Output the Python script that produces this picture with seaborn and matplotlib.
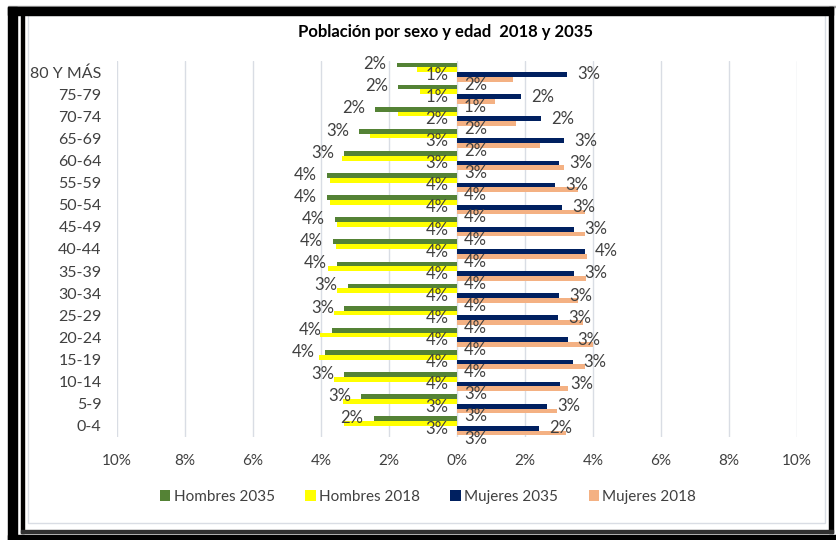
import numpy as np
import pandas as pd
import seaborn as sns
import matplotlib.pyplot as plt
from matplotlib.patches import Rectangle, Patch

# Data (percent of total population)
edades = ["80 Y MÁS", "75-79", "70-74", "65-69", "60-64", "55-59", "50-54", "45-49",
          "40-44", "35-39", "30-34", "25-29", "20-24", "15-19", "10-14", "5-9", "0-4"]
hombres_2035 = [1.77, 1.73, 2.40, 2.87, 3.31, 3.82, 3.82, 3.59, 3.64, 3.52, 3.21, 3.31, 3.69, 3.87, 3.31, 2.82, 2.45]
hombres_2018 = [1.18, 1.08, 1.73, 2.55, 3.38, 3.73, 3.75, 3.52, 3.56, 3.80, 3.53, 3.61, 4.02, 4.05, 3.63, 3.36, 3.31]
mujeres_2035 = [3.24, 1.88, 2.48, 3.14, 3.01, 2.88, 3.09, 3.45, 3.75, 3.45, 3.01, 2.96, 3.25, 3.42, 3.04, 2.64, 2.40]
mujeres_2018 = [1.64, 1.13, 1.74, 2.45, 3.16, 3.55, 3.76, 3.76, 3.82, 3.79, 3.55, 3.70, 3.99, 3.76, 3.27, 2.94, 3.20]

series = ["Hombres 2035", "Hombres 2018", "Mujeres 2035", "Mujeres 2018"]
colores = ["#548235", "#FFFF00", "#002060", "#F4B183"]
x_ticks = [-10, -8, -6, -4, -2, 0, 2, 4, 6, 8, 10]

valores = {
    "Hombres 2035": [-v for v in hombres_2035],
    "Hombres 2018": [-v for v in hombres_2018],
    "Mujeres 2035": mujeres_2035,
    "Mujeres 2018": mujeres_2018,
}
df = pd.concat([pd.DataFrame({"edad": edades, "valor": valores[s], "serie": s}) for s in series])

sns.set_theme(style="white")
plt.rcParams["font.family"] = ["Lato", "DejaVu Sans"]
txt = "#404040"

fig = plt.figure(figsize=(8.36, 5.40), dpi=100)
W, H = 836, 540
ax = fig.add_axes([117 / W, 1 - 437 / H, 680 / W, 376 / H])

sns.barplot(data=df, y="edad", x="valor", hue="serie", order=edades, hue_order=series,
            palette=colores, orient="h", width=0.86, legend=False, ax=ax, saturation=1,
            linewidth=0)

ax.set_xlim(-10, 10)
ax.set_ylim(16.5, -0.5)
ax.set_xticks(x_ticks)
ax.set_xticklabels([f"{abs(t)}%" for t in x_ticks], fontsize=11, color=txt)
ax.set_yticklabels(edades, fontsize=11.5, color=txt)
ax.tick_params(axis="x", length=0, pad=12)
ax.tick_params(axis="y", length=0, pad=11)
ax.set_xlabel("")
ax.set_ylabel("")
ax.grid(axis="x", color="#D9DDE4", lw=1)
ax.set_axisbelow(True)
for sp in ax.spines.values():
    sp.set_visible(False)

# Data labels
datos = [hombres_2035, hombres_2018, mujeres_2035, mujeres_2018]
for k, (cont, vals) in enumerate(zip(ax.containers, datos)):
    for p, v in zip(cont.patches, vals):
        yc = p.get_y() + p.get_height() / 2
        lab = f"{round(v)}%"
        if k == 0:
            ax.text(-v - 0.3, yc - 0.03, lab, ha="right", va="center", fontsize=12, color=txt)
        elif k == 1:
            ax.text(-0.25, yc + 0.23, lab, ha="right", va="center", fontsize=12, color=txt)
        elif k == 2:
            ax.text(v + 0.3, yc, lab, ha="left", va="center", fontsize=12, color=txt)
        else:
            ax.text(0.2, yc + 0.25, lab, ha="left", va="center", fontsize=12, color=txt)

fig.text(445 / W, 1 - 32 / H, "Población por sexo y edad  2018 y 2035", ha="center", va="center",
         fontsize=12, fontweight="bold", color="black")

handles = [Patch(facecolor=c, edgecolor="none") for c in colores]
fig.legend(handles, series, loc="center", bbox_to_anchor=(428 / W, 1 - 497 / H), ncol=4,
           frameon=False, fontsize=11, handlelength=0.7, handleheight=0.7,
           handletextpad=0.2, columnspacing=2.0, labelcolor=txt)


# Frame around the picture
def px_rect(x0, y0, x1, y1, **kw):
    fig.add_artist(Rectangle((x0 / W, 1 - y1 / H), (x1 - x0) / W, (y1 - y0) / H,
                             transform=fig.transFigure, **kw))


px_rect(28, 15, 825, 523, fill=False, edgecolor="#D9DDE4", lw=1)
px_rect(8, 6, 836, 7, color="#A0A0A0")
px_rect(8, 7, 833, 15, color="black")
px_rect(8, 7, 17, 540, color="black")
px_rect(21, 15, 24, 533, color="black")
px_rect(829, 7, 833, 533, color="black")
px_rect(21, 530, 833, 533, color="#303030")
px_rect(8, 535, 836, 540, color="black")

fig.savefig("out.png", dpi=100)
